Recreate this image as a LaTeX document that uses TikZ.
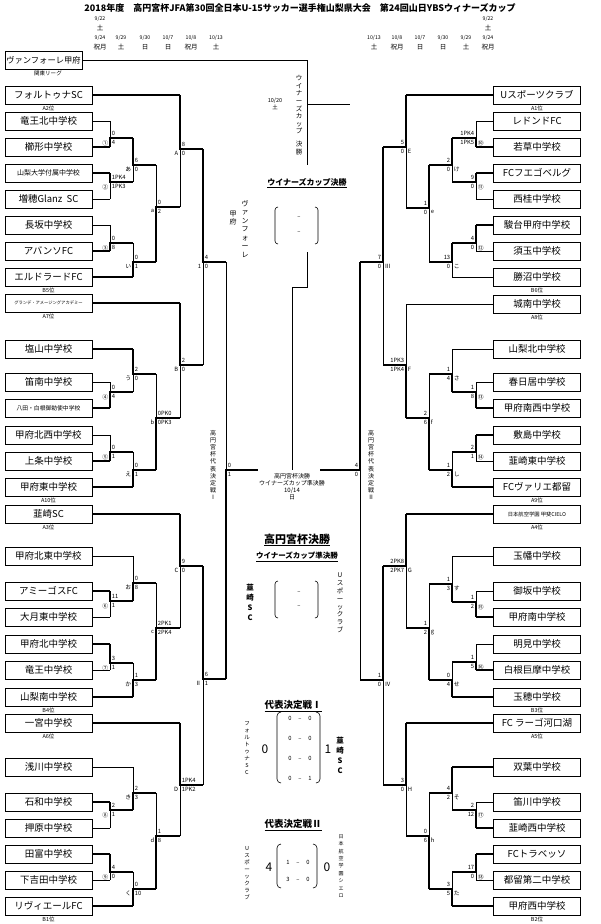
\documentclass[tikz,border=0pt]{standalone}
\usepackage{fontspec}
\setmainfont{Noto Sans CJK JP}
\begin{document}
\begin{tikzpicture}[x=1pt,y=-1pt,
  thn/.style={line width=0.6pt},
  thk/.style={line width=2.6pt},
  team/.style={draw,line width=0.7pt,minimum width=87pt,minimum height=18pt,inner sep=0pt,font=\fontsize{9.5}{10}\selectfont},
  sc/.style={inner sep=0.6pt,font=\fontsize{5.8}{6}\selectfont},
  rk/.style={inner sep=0pt,font=\fontsize{5.5}{6}\selectfont},
  vt/.style={align=center,inner sep=0pt,font=\fontsize{6.5}{7.6}\selectfont},
  hd/.style={inner sep=0pt,font=\bfseries\fontsize{9}{10}\selectfont}]
\useasboundingbox (0,0) rectangle (600,924);
\fill[white] (0,0) rectangle (600,924);
\def\sdA{west}\def\sdB{east}\def\dx{1}
\newcommand\mtch[9]{%
  \draw[thn] (#1,#2)--(#1,#3);
  \if#6t\draw[thk] (#1,#2)--(#1,#4)--(#5,#4);\else\draw[thk] (#1,#3)--(#1,#4)--(#5,#4);\fi
  \node[sc,anchor=south \sdA] at (#1+\dx,#4-1.3) {#7};
  \node[sc,anchor=north \sdA] at (#1+\dx,#4+1.3) {#8};
  \node[sc,anchor=north \sdB] at (#1-\dx,#4+1.3) {#9};}
% title and dates
\node[hd] (title) at (300,8) {2018年度　高円宮杯JFA第30回全日本U-15サッカー選手権山梨県大会　第24回山日YBSウィナーズカップ};
\begin{scope}[every node/.style={inner sep=0pt,font=\fontsize{5.2}{5.5}\selectfont}]
\node (d0a) at (100,19) {9/22}; \node (d0b) at (100,28) {\fontsize{6.5}{6.5}\selectfont 土};
\node (r0a) at (488,19) {9/22}; \node (r0b) at (488,28) {\fontsize{6.5}{6.5}\selectfont 土};
\foreach \x/\d/\w [count=\i] in {100/9\slash24/祝月,121/9\slash29/土,145/9\slash30/日,168/10\slash7/日,191/10\slash8/祝月,216/10\slash13/土}{
  \node (dl\i) at (\x,38) {\d}; \node (wl\i) at (\x,47) {\fontsize{6.5}{6.5}\selectfont\w};}
\foreach \x/\d/\w [count=\i] in {374/10\slash13/土,397/10\slash8/祝月,420/10\slash7/日,443/9\slash30/日,466/9\slash29/土,488/9\slash24/祝月}{
  \node (dr\i) at (\x,38) {\d}; \node (wr\i) at (\x,47) {\fontsize{6.5}{6.5}\selectfont\w};}
\end{scope}
% left teams
\node[team,minimum width=77pt,font=\fontsize{8.3}{9}\selectfont] (L0) at (43.5,60) {ヴァンフォーレ甲府};
\node[rk] (k0) at (48,73) {関東リーグ};
\foreach \y/\t/\f [count=\i] in {95/フォルトゥナSC/9.5,121/竜王北中学校/9.5,147/櫛形中学校/9.5,173/山梨大学付属中学校/7,199/増穂Glanz\ \ SC/9.5,225/長坂中学校/9.5,251/アバンソFC/9.5,277/エルドラードFC/9.5,303/グランデ・アメージングアカデミー/4.3,349/塩山中学校/9.5,382/笛南中学校/9.5,408/八田・白根御勅使中学校/5.8,435/甲府北西中学校/9.5,461/上条中学校/9.5,487/甲府東中学校/9.5,514/韮崎SC/9.5,556/甲府北東中学校/9.5,591/アミーゴスFC/9.5,617/大月東中学校/9.5,644/甲府北中学校/9.5,670/竜王中学校/9.5,697/山梨南中学校/9.5,723/一宮中学校/9.5,767/浅川中学校/9.5,802/石和中学校/9.5,828/押原中学校/9.5,854/田富中学校/9.5,880/下吉田中学校/9.5,906/リヴィエールFC/9.5}
  \node[team,font=\fontsize{\f}{\f}\selectfont] (L\i) at (48.5,\y) {\t};
\foreach \i/\x/\s in {1/180/thk,2/110/thn,3/110/thk,4/110/thk,5/110/thn,6/110/thn,7/110/thk,8/133/thk,9/180/thk,10/133/thk,11/110/thn,12/110/thk,13/110/thn,14/110/thk,15/133/thk,16/180/thk,17/133/thn,18/110/thk,19/110/thn,20/110/thk,21/110/thn,22/133/thk,23/180/thk,24/133/thn,25/110/thk,26/110/thn,27/110/thk,28/110/thn,29/133/thk}
  \draw[\s] (L\i.east) -- (\x,0 |- L\i.east);
\foreach \i/\t in {1/A2位,8/B5位,9/A7位,15/A10位,16/A3位,22/B4位,23/A6位,29/B1位}
  \node[rk,anchor=north] at ([yshift=-1.5pt]L\i.south) {\t};
% right teams
\foreach \y/\t/\f [count=\i] in {95/Uスポーツクラブ/9.5,121/レドンドFC/9.5,147/若草中学校/9.5,173/FCフエゴベルグ/9.5,199/西桂中学校/9.5,225/駿台甲府中学校/9.5,251/須玉中学校/9.5,277/勝沼中学校/9.5,304/城南中学校/9.5,349/山梨北中学校/9.5,382/春日居中学校/9.5,408/甲府南西中学校/9.5,435/敷島中学校/9.5,461/韮崎東中学校/9.5,487/FCヴァリエ都留/9.5,514/日本航空学園\ 甲斐CIELO/5.3,556/玉幡中学校/9.5,591/御坂中学校/9.5,617/甲府南中学校/9.5,644/明見中学校/9.5,670/白根巨摩中学校/9.5,697/玉穂中学校/9.5,723/FC\ ラーゴ河口湖/9.5,767/双葉中学校/9.5,802/笛川中学校/9.5,828/韮崎西中学校/9.5,854/FCトラベッソ/9.5,880/都留第二中学校/9.5,906/甲府西中学校/9.5}
  \node[team,font=\fontsize{\f}{\f}\selectfont] (R\i) at (537,\y) {\t};
\foreach \i/\x/\s in {1/406/thk,2/476/thn,3/476/thk,4/476/thk,5/476/thn,6/476/thk,7/476/thn,8/452/thn,9/406/thn,10/452/thn,11/476/thn,12/476/thk,13/476/thk,14/476/thn,15/452/thk,16/406/thk,17/452/thn,18/476/thn,19/476/thk,20/476/thn,21/476/thk,22/452/thk,23/406/thk,24/452/thk,25/476/thn,26/476/thk,27/476/thk,28/476/thn,29/452/thk}
  \draw[\s] (R\i.west) -- (\x,0 |- R\i.west);
\foreach \i/\t in {1/A1位,8/B6位,9/A8位,15/A9位,16/A4位,22/B3位,23/A5位,29/B2位}
  \node[rk,anchor=north] at ([yshift=-1.5pt]R\i.south) {\t};
% left matches
\mtch{110}{121}{147}{138}{133}{b}{0}{4}{①}
\mtch{110}{173}{199}{182}{133}{t}{1PK4}{1PK3}{②}
\mtch{133}{138}{182}{165}{156}{t}{6}{0}{あ}
\mtch{110}{225}{251}{243}{133}{b}{0}{8}{③}
\mtch{133}{243}{277}{262}{156}{b}{0}{1}{い}
\mtch{156}{165}{262}{207}{180}{b}{0}{2}{a}
\mtch{180}{95}{207}{149}{203}{t}{8}{0}{A}
\mtch{133}{349}{392}{374}{156}{t}{2}{0}{う}
\mtch{110}{382}{408}{392}{133}{b}{0}{4}{④}
\mtch{110}{435}{461}{452}{133}{b}{0}{1}{⑤}
\mtch{133}{452}{487}{470}{156}{b}{0}{1}{え}
\mtch{156}{374}{470}{418}{180}{b}{0PK0}{0PK3}{b}
\mtch{180}{303}{418}{365}{203}{t}{2}{0}{B}
\mtch{203}{149}{365}{262}{226}{t}{4}{0}{1}
\mtch{133}{556}{601}{583}{156}{b}{0}{8}{お}
\mtch{110}{591}{617}{601}{133}{t}{11}{1}{⑥}
\mtch{110}{644}{670}{663}{133}{t}{3}{1}{⑦}
\mtch{133}{663}{697}{680}{156}{b}{1}{3}{か}
\mtch{156}{583}{680}{628}{180}{b}{2PK1}{2PK4}{c}
\mtch{180}{514}{628}{566}{203}{t}{9}{0}{C}
\mtch{133}{767}{810}{793}{156}{b}{2}{3}{き}
\mtch{110}{802}{828}{810}{133}{t}{2}{1}{⑧}
\mtch{110}{854}{880}{872}{133}{t}{4}{0}{⑨}
\mtch{133}{872}{906}{889}{156}{b}{0}{10}{く}
\mtch{156}{793}{889}{836}{180}{b}{1}{8}{d}
\mtch{180}{723}{836}{785}{203}{t}{1PK4}{1PK2}{D}
\mtch{203}{566}{785}{679}{226}{t}{6}{1}{Ⅱ}
\mtch{226}{262}{679}{470}{258}{b}{0}{1}{}
% right matches
\def\sdA{east}\def\sdB{west}\def\dx{-1}
\mtch{476}{121}{147}{138}{452}{b}{1PK4}{1PK5}{⑩}
\mtch{476}{173}{199}{182}{452}{t}{9}{0}{⑪}
\mtch{452}{138}{182}{165}{429}{t}{2}{0}{け}
\mtch{476}{225}{251}{243}{452}{t}{4}{0}{⑫}
\mtch{452}{243}{277}{262}{429}{t}{13}{0}{こ}
\mtch{429}{165}{262}{208}{406}{t}{1}{0}{e}
\mtch{406}{95}{208}{147}{383}{t}{5}{0}{E}
\mtch{476}{382}{408}{392}{452}{b}{1}{8}{⑬}
\mtch{452}{349}{392}{374}{429}{b}{1}{4}{さ}
\mtch{476}{435}{461}{452}{452}{t}{2}{1}{⑭}
\mtch{452}{452}{487}{470}{429}{b}{1}{2}{し}
\mtch{429}{374}{470}{418}{406}{b}{2}{6}{f}
\mtch{406}{304}{418}{365}{383}{b}{1PK3}{1PK4}{F}
\mtch{383}{147}{365}{262}{360}{t}{7}{0}{Ⅲ}
\mtch{476}{591}{617}{602}{452}{b}{1}{2}{⑮}
\mtch{452}{556}{602}{584}{429}{b}{1}{3}{す}
\mtch{476}{644}{670}{662}{452}{b}{1}{5}{⑯}
\mtch{452}{662}{697}{680}{429}{b}{0}{4}{せ}
\mtch{429}{584}{680}{628}{406}{b}{1}{2}{g}
\mtch{406}{514}{628}{566}{383}{t}{2PK8}{2PK7}{G}
\mtch{476}{802}{828}{810}{452}{b}{2}{12}{⑰}
\mtch{452}{767}{810}{793}{429}{t}{4}{2}{そ}
\mtch{476}{854}{880}{872}{452}{t}{17}{0}{⑱}
\mtch{452}{872}{906}{889}{429}{b}{3}{5}{た}
\mtch{429}{793}{889}{836}{406}{b}{0}{6}{h}
\mtch{406}{723}{836}{785}{383}{t}{3}{0}{H}
\mtch{383}{566}{785}{680}{360}{t}{1}{0}{Ⅳ}
\mtch{360}{262}{680}{470}{320}{t}{4}{0}{}
% centre lines
\coordinate (wc1) at (307,60); \coordinate (wc2) at (307,165);
\draw[thn] (L0.east) -- (wc1) -- (wc2);
\draw[thn] (307,104) -- (350,104);
\draw[thn] (307,252) -- (307,287) -- (292,287) -- (292,470);
\node[vt] (v1) at (299,115) {ウ\\イ\\ナ\\ー\\ズ\\カ\\ッ\\プ\\[5pt]決\\勝};
\node[vt,font=\fontsize{5.5}{7}\selectfont] (v2) at (275,104) {10/20\\土};
\node[inner sep=1pt,font=\bfseries\fontsize{8}{9}\selectfont] (wf) at (307,183) {\underline{ウイナーズカップ決勝}};
\node[vt,font=\fontsize{7}{8.5}\selectfont] (v3) at (245,229) {ヴ\\ァ\\ン\\フ\\ォ\\ー\\レ};
\node[vt,font=\fontsize{7}{8.5}\selectfont] (v4) at (233,218) {甲\\府};
\draw[thn,rounded corners=3pt] (278,207) -- (275,207) -- (275,244) -- (278,244);
\draw[thn,rounded corners=3pt] (315,207) -- (318,207) -- (318,244) -- (315,244);
\node[sc] (dw1) at (299,218) {–}; \node[sc] (dw2) at (299,233) {–};
\node[vt,font=\fontsize{6}{7}\selectfont] (sf) at (292,487) {高円宮杯決勝\\ウイナーズカップ準決勝\\10/14\\日};
\node[vt,font=\fontsize{6}{7.2}\selectfont] (v5) at (213,465) {高\\円\\宮\\杯\\代\\表\\決\\定\\戦\\Ⅰ};
\node[vt,font=\fontsize{6}{7.2}\selectfont] (v6) at (371,465) {高\\円\\宮\\杯\\代\\表\\決\\定\\戦\\Ⅱ};
\node[inner sep=1pt,font=\bfseries\fontsize{11}{12}\selectfont] (kf) at (297,540) {\underline{高円宮杯決勝}};
\node[inner sep=1pt,font=\bfseries\fontsize{7.5}{9}\selectfont] (ws) at (297,557) {\underline{ウイナーズカップ準決勝}};
\node[vt,font=\bfseries\fontsize{7.5}{10}\selectfont] (v7) at (250,602) {韮\\崎\\S\\C};
\node[vt,font=\fontsize{6.5}{7.8}\selectfont] (v8) at (340,603) {U\\ス\\ポ\\ー\\ッ\\ク\\ラ\\ブ};
\draw[thn,rounded corners=3pt] (278,581) -- (275,581) -- (275,618) -- (278,618);
\draw[thn,rounded corners=3pt] (315,581) -- (318,581) -- (318,618) -- (315,618);
\node[sc] (dk1) at (299,593) {–}; \node[sc] (dk2) at (299,607) {–};
% 代表決定戦 I
\node[inner sep=1pt,font=\bfseries\fontsize{9.5}{10}\selectfont] (h1) at (293,706) {\underline{代表決定戦Ⅰ}};
\node[vt,font=\fontsize{5.5}{7}\selectfont] (v9) at (247,748) {フ\\ォ\\ル\\ト\\ゥ\\ナ\\S\\C};
\node[inner sep=0pt,font=\fontsize{12}{12}\selectfont] (s1l) at (265,749) {0};
\node[inner sep=0pt,font=\fontsize{12}{12}\selectfont] (s1r) at (328,749) {1};
\node[vt,font=\bfseries\fontsize{7.5}{10}\selectfont] (v10) at (340,755) {韮\\崎\\S\\C};
\draw[thn,rounded corners=4pt] (281,712) -- (277,712) -- (277,783) -- (281,783);
\draw[thn,rounded corners=4pt] (316,712) -- (320,712) -- (320,783) -- (316,783);
\foreach \y/\a/\b in {718/0/0,738/0/0,758/0/0,778/0/1}
  \node[sc] at (300,\y) {\makebox[8pt]{\a}\makebox[12pt]{–}\makebox[8pt]{\b}};
% 代表決定戦 II
\node[inner sep=1pt,font=\bfseries\fontsize{9.5}{10}\selectfont] (h2) at (293,825) {\underline{代表決定戦Ⅱ}};
\node[vt,font=\fontsize{5.5}{7}\selectfont] (v11) at (247,873) {U\\ス\\ポ\\ー\\ッ\\ク\\ラ\\ブ};
\node[inner sep=0pt,font=\fontsize{12}{12}\selectfont] (s2l) at (269,867) {4};
\node[inner sep=0pt,font=\fontsize{12}{12}\selectfont] (s2r) at (327,867) {0};
\node[vt,font=\fontsize{5}{7.4}\selectfont] (v12) at (341,866) {日\\本\\航\\空\\学\\園\\シ\\エ\\ロ};
\draw[thn,rounded corners=4pt] (281,844) -- (277,844) -- (277,888) -- (281,888);
\draw[thn,rounded corners=4pt] (313,844) -- (317,844) -- (317,888) -- (313,888);
\foreach \y/\a/\b in {862/1/0,879/3/0}
  \node[sc] at (298,\y) {\makebox[8pt]{\a}\makebox[12pt]{–}\makebox[8pt]{\b}};
\end{tikzpicture}
\end{document}
